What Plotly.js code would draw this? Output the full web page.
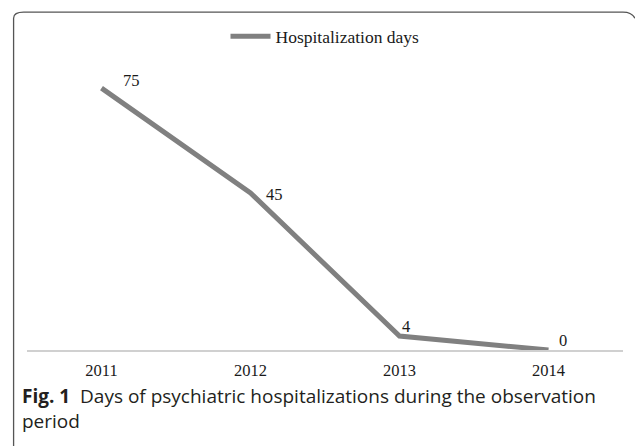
<!DOCTYPE html>
<html>
<head>
<meta charset="utf-8">
<script src="https://cdn.plot.ly/plotly-3.0.1.min.js"></script>
<style>html,body{margin:0;padding:0;background:#fff;}#chart{width:635px;height:446px;}</style>
</head>
<body>
<div id="chart"></div>
<script>
const years = ['2011', '2012', '2013', '2014'];
const hospitalizationDays = [75, 45, 4, 0];
const seriesName = 'Hospitalization days';
const captionBold = 'Fig. 1';
const captionText = 'Days of psychiatric hospitalizations during the observation';
const captionText2 = 'period';

const labelShiftX = [30, 24, 6, 14];
const labelShiftY = [8, -2, 10, 10];

const serif = 'Liberation Serif, Times New Roman, serif';

const trace = {
  x: years,
  y: hospitalizationDays,
  type: 'scatter',
  mode: 'lines',
  name: seriesName,
  line: {color: '#808080', width: 5},
  cliponaxis: false,
  showlegend: true
};

const labelAnnotations = years.map((yr, i) => ({
  x: i, y: hospitalizationDays[i], xref: 'x', yref: 'y',
  text: String(hospitalizationDays[i]),
  showarrow: false,
  xshift: labelShiftX[i], yshift: labelShiftY[i],
  font: {family: serif, size: 16.5, color: '#1a1a1a'}
}));

const layout = {
  width: 635,
  height: 446,
  margin: {l: 27, r: 12, t: 70, b: 96},
  paper_bgcolor: '#ffffff',
  plot_bgcolor: '#ffffff',
  showlegend: true,
  legend: {
    orientation: 'h', x: 0.5, xanchor: 'center', y: 1.12, yanchor: 'middle',
    yref: 'paper',
    itemwidth: 40,
    font: {family: serif, size: 17.5, color: '#1a1a1a'},
    bgcolor: 'rgba(0,0,0,0)'
  },
  xaxis: {
    type: 'category',
    range: [-0.5, 3.5],
    showgrid: false,
    zeroline: false,
    showline: true,
    linecolor: '#d0d0d0',
    linewidth: 1.5,
    ticks: '',
    ticklabelstandoff: 5,
    tickfont: {family: serif, size: 16.5, color: '#1a1a1a'},
    fixedrange: true
  },
  yaxis: {
    range: [0, 80.2],
    visible: false,
    showgrid: false,
    zeroline: false,
    fixedrange: true
  },
  shapes: [{
    type: 'path',
    xref: 'paper', yref: 'paper',
    path: 'M -0.0225,-0.35 L -0.0225,1.185 Q -0.0225,1.207 -0.0057,1.207 L 1.00,1.207 Q 1.015,1.207 1.02,1.185',
    line: {color: '#555555', width: 1.3}
  }],
  annotations: labelAnnotations.concat([{
    xref: 'paper', yref: 'paper',
    x: -0.0125, y: -0.111, xanchor: 'left', yanchor: 'top',
    align: 'left',
    showarrow: false,
    text: '<b>' + captionBold + '</b>  ' + captionText + '<br>' + captionText2,
    font: {family: 'Open Sans, Noto Sans, sans-serif', size: 19, color: '#231f20'}
  }])
};

Plotly.newPlot('chart', [trace], layout, {displayModeBar: false, staticPlot: true});
</script>
</body>
</html>
